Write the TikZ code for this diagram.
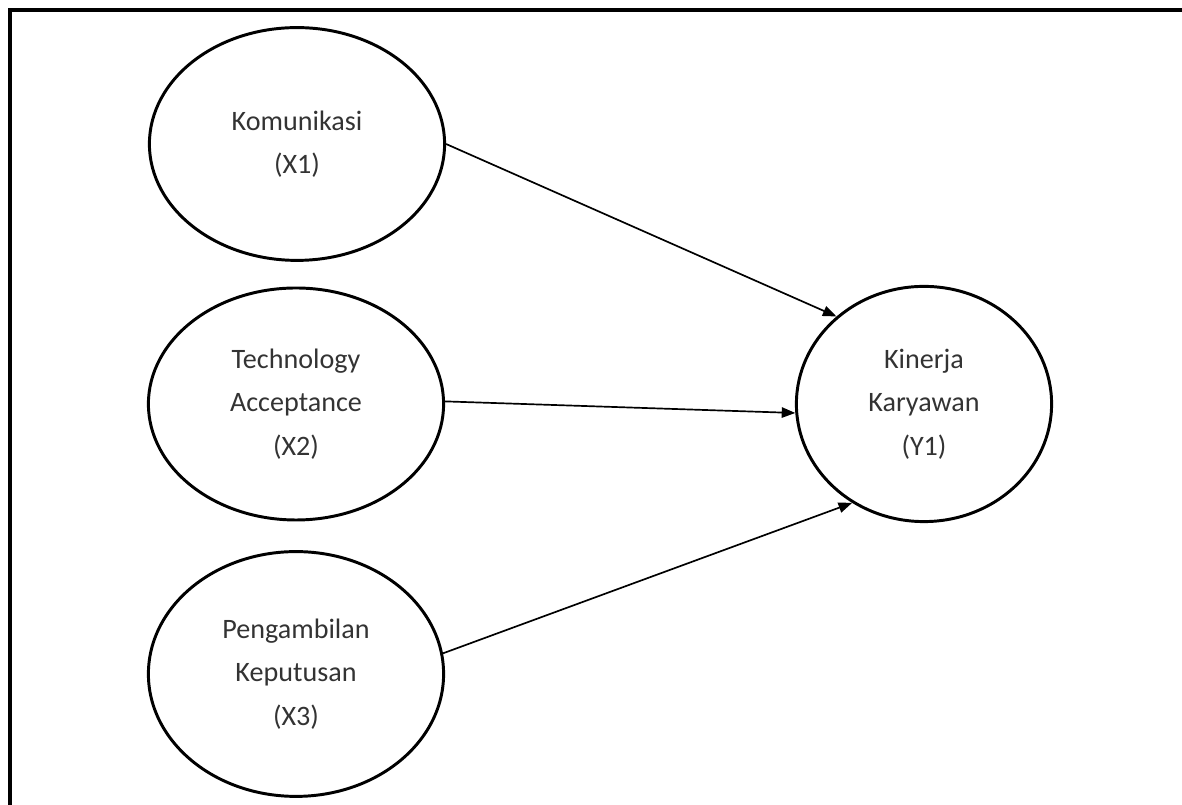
\documentclass[tikz,border=0pt]{standalone}
\usepackage{fontspec}
\setmainfont{Carlito}
\usepackage{tikz}
\usetikzlibrary{calc}
\usetikzlibrary{shapes.geometric,arrows.meta}

\begin{document}
\begin{tikzpicture}[
    variabel/.style={ellipse, draw, line width=2.1pt, minimum width=7.38cm, align=center, text=black!80, font=\fontsize{20}{31}\selectfont},
    panah/.style={line width=1.2pt, -{Triangle[length=0.34cm,width=0.26cm]}}
]
        %BATAS
        \useasboundingbox (0,0) rectangle (29.55,20.125);
        \clip (0,0) rectangle (29.55,20.125);
        %BINGKAI
        \draw[line width=2.8pt] (0.26,-1) |- (31,19.875);
        %KOORDINAT
        \coordinate (P1) at (7.425,16.525);
        \coordinate (P2) at (7.4,10.025);
        \coordinate (P3) at (7.4,3.275);
        \coordinate (Q) at (23.1,10.025);
        %ELIPS
        \node[variabel, minimum height=5.82cm] (X1) at (P1) {Komunikasi\\(X1)};
        \node[variabel, minimum height=5.8cm] (X2) at (P2) {Technology\\Acceptance\\(X2)};
        \node[variabel, minimum height=6.12cm] (X3) at (P3) {Pengambilan\\Keputusan\\(X3)};
        \node[variabel, minimum width=6.38cm, minimum height=5.88cm] (Y1) at (Q) {Kinerja\\Karyawan\\(Y1)};
        %PANAH
        \draw[panah] (X1.0) -- (Y1.135);
        \draw[panah] (X2.1) -- (Y1.184);
        \draw[panah] (X3.8) -- (Y1.234);
\end{tikzpicture}
\end{document}
